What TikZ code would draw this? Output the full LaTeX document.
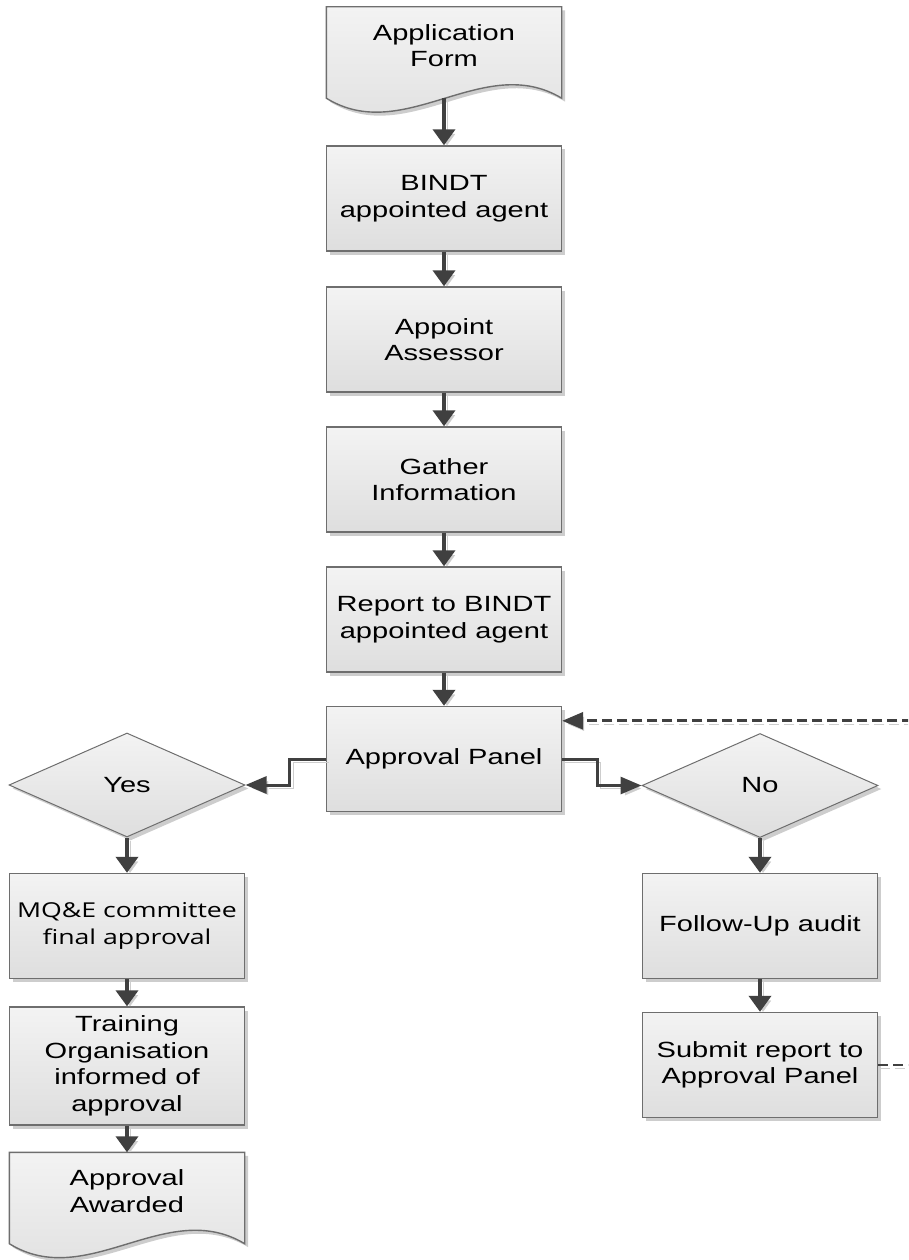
\documentclass[tikz,border=0pt]{standalone}
\usepackage{fontspec}
\setmainfont{Liberation Sans}[FakeStretch=1.32]
\newfontfamily\mqefont{Open Sans}[FakeStretch=1.3]
\usetikzlibrary{arrows.meta,shapes.geometric,shadows,calc}
\definecolor{filltop}{HTML}{F3F3F3}
\definecolor{fillbot}{HTML}{DEDEDE}
\definecolor{bordergray}{HTML}{6E6E6E}
\definecolor{shadowgray}{HTML}{CDCDCD}
\definecolor{arrowgray}{HTML}{404040}
\newcommand\drawdocshape[1]{%
  \path[shadebox] (#1.north west) -- (#1.south west)
    .. controls ($(#1.south west)+(78,48)$) and ($(#1.south west)+(157,-47)$) .. (#1.south east)
    -- (#1.north east) -- cycle;}
\begin{document}
\begin{tikzpicture}[x=1pt,y=-1pt,
  mainfont/.style={font=\fontsize{22pt}{26.5pt}\selectfont},
  shadebox/.style={draw=bordergray, line width=1.4pt, top color=filltop, bottom color=fillbot,
    drop shadow={shadow xshift=3.5pt, shadow yshift=-3.5pt, fill=shadowgray, opacity=1}},
  box/.style={rectangle, shadebox, minimum width=235pt, minimum height=105pt, align=center, mainfont, inner sep=0pt},
  dia/.style={diamond, shadebox, line width=1pt, minimum width=236pt, minimum height=104pt, aspect=2.27, inner sep=0pt, mainfont},
  docnode/.style={rectangle, minimum width=235pt, minimum height=91pt, inner sep=0pt},
  doctext/.style={align=center, mainfont, inner sep=0pt},
  tipv/.tip={Triangle[length=16pt,width=22pt]},
  tiph/.tip={Triangle[length=21pt,width=17pt]},
  arr/.style={draw=arrowgray, line width=3.8pt, -tipv,
    preaction={draw=shadowgray, -tipv, transform canvas={shift={(3pt,-3pt)}}}},
  harr/.style={draw=arrowgray, line width=3pt, -tiph,
    preaction={draw=shadowgray, -tiph, transform canvas={shift={(3pt,-3pt)}}}},
  dasharr/.style={draw=arrowgray, line width=2.8pt, dash pattern=on 10pt off 5pt, -tiph,
    preaction={draw=shadowgray, dash pattern=on 10pt off 5pt, -tiph, transform canvas={shift={(2pt,-3pt)}}}}
]
\clip (0,0) rectangle (908,1260);

% centre column
\node[docnode] (appform) at (444,52.5) {};
\drawdocshape{appform}
\node[doctext] (appformtext) at ([yshift=7pt]appform.center) {Application\\Form};
\node[box] (bindt) at (444,198.5) {BINDT\\appointed agent};
\node[box] (appoint) at (444,339.5) {Appoint\\Assessor};
\node[box] (gather) at (444,479.5) {Gather\\Information};
\node[box] (report) at (444,619.5) {Report to BINDT\\appointed agent};
\node[box] (panel) at (444,759) {Approval Panel};

% decisions
\node[dia] (yes) at (127,785) {Yes};
\node[dia] (no) at (760,785.5) {No};

% left column
\node[box, font=\mqefont\fontsize{20.5pt}{27pt}\selectfont] (mqe) at (127,926) {MQ\&E committee\\final approval};
\node[box, minimum height=118pt] (training) at (127,1066) {Training\\Organisation\\informed of\\approval};
\node[docnode] (awarded) at (127,1198) {};
\drawdocshape{awarded}
\node[doctext] (awardedtext) at ([yshift=7pt]awarded.center) {Approval\\Awarded};

% right column
\node[box] (followup) at (760,926) {Follow-Up audit};
\node[box] (submit) at (760,1065) {Submit report to\\Approval Panel};

% connectors
\draw[arr] (appform.south) -- (bindt.north);
\draw[arr] (bindt) -- (appoint);
\draw[arr] (appoint) -- (gather);
\draw[arr] (gather) -- (report);
\draw[arr] (report) -- (panel);
\draw[harr] (panel.west) -- ++(-36,0) |- (yes.east);
\draw[harr] (panel.east) -- ++(35,0) |- (no.west);
\draw[arr] (yes.south) -- (mqe.north);
\draw[arr] (mqe) -- (training);
\draw[arr] (training.south) -- (awarded.north);
\draw[arr] (no.south) -- (followup.north);
\draw[arr] (followup) -- (submit);
\draw[dasharr] (submit.east) -- ++(55,0) |- ([yshift=-15pt]panel.north east);
\end{tikzpicture}
\end{document}
